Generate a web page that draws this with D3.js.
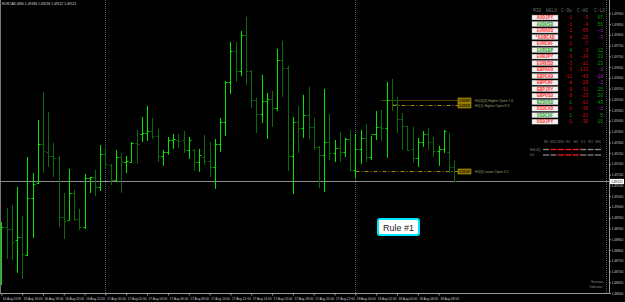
<!DOCTYPE html>
<html>
<head>
<meta charset="utf-8">
<script src="https://cdn.jsdelivr.net/npm/d3@7"></script>
<style>
  body { margin: 0; background: #000; }
  svg { display: block; }
</style>
</head>
<body>
<svg id="chart" width="625" height="302"></svg>
<script>
// EURCAD M30 bars, 16 Aug 14:00 -> 18 Aug 09:30
var opens = [1.48786,1.48907,1.48898,1.48846,1.48860,1.48777,1.49042,1.49112,1.49293,1.49256,
  1.49237,1.49228,1.48953,1.48939,1.49065,1.48944,1.48907,1.49135,1.49139,1.49093,
  1.49246,1.49195,1.49125,1.49232,1.49209,1.49209,1.49298,1.49339,1.49344,1.49353,
  1.49330,1.49237,1.49256,1.49311,1.49311,1.49311,1.49265,1.49265,1.49209,1.49232,
  1.49214,1.49186,1.49293,1.49395,1.49581,1.49725,1.49632,1.49800,1.49632,1.49497,
  1.49432,1.49493,1.49502,1.49460,1.49683,1.49646,1.49237,1.49395,1.49367,1.49428,
  1.49372,1.49279,1.49242,1.49302,1.49251,1.49274,1.49256,1.49316,1.49172,1.49270,
  1.49321,1.49232,1.49339,1.49372,1.49367,1.49497,1.49479,1.49409,1.49377,1.49270,
  1.49228,1.49302,1.49339,1.49302,1.49260,1.49270,1.49256,1.49186];
var highs = [1.48930,1.48995,1.49009,1.49093,1.48958,1.49232,1.49158,1.49404,1.49535,1.49442,
  1.49298,1.49237,1.49065,1.49177,1.49079,1.48991,1.49153,1.49139,1.49172,1.49288,
  1.49274,1.49200,1.49265,1.49251,1.49237,1.49302,1.49358,1.49418,1.49470,1.49414,
  1.49363,1.49265,1.49325,1.49339,1.49339,1.49353,1.49325,1.49270,1.49270,1.49335,
  1.49302,1.49316,1.49414,1.49586,1.49767,1.49767,1.49818,1.49883,1.49637,1.49507,
  1.49614,1.49530,1.49539,1.49735,1.49772,1.49656,1.49418,1.49470,1.49521,1.49558,
  1.49414,1.49284,1.49549,1.49432,1.49311,1.49349,1.49321,1.49358,1.49339,1.49358,
  1.49386,1.49330,1.49446,1.49451,1.49581,1.49595,1.49511,1.49437,1.49377,1.49372,
  1.49321,1.49353,1.49367,1.49325,1.49284,1.49358,1.49344,1.49218];
var lows = [1.48637,1.48758,1.48753,1.48693,1.48665,1.48772,1.48856,1.49107,1.49158,1.49186,
  1.49139,1.48907,1.48851,1.48939,1.48935,1.48893,1.48898,1.49065,1.49051,1.49074,
  1.49181,1.49102,1.49116,1.49065,1.49158,1.49205,1.49200,1.49302,1.49307,1.49316,
  1.49209,1.49191,1.49242,1.49270,1.49274,1.49251,1.49223,1.49167,1.49163,1.49195,
  1.49139,1.49084,1.49256,1.49330,1.49525,1.49581,1.49609,1.49567,1.49460,1.49344,
  1.49390,1.49316,1.49372,1.49446,1.49511,1.49167,1.49060,1.49251,1.49321,1.49316,
  1.49265,1.49088,1.49070,1.49218,1.49209,1.49209,1.49232,1.49167,1.49135,1.49200,
  1.49209,1.49218,1.49311,1.49307,1.49228,1.49446,1.49344,1.49265,1.49260,1.49205,
  1.49186,1.49279,1.49265,1.49232,1.49191,1.49251,1.49158,1.49112];
var closes = [1.48907,1.48898,1.48837,1.48860,1.48781,1.49042,1.49107,1.49293,1.49260,1.49237,
  1.49228,1.48953,1.48935,1.49065,1.48944,1.48907,1.49135,1.49139,1.49093,1.49246,
  1.49200,1.49125,1.49232,1.49209,1.49214,1.49298,1.49293,1.49344,1.49353,1.49330,
  1.49237,1.49256,1.49311,1.49316,1.49307,1.49265,1.49311,1.49209,1.49242,1.49214,
  1.49186,1.49293,1.49395,1.49581,1.49725,1.49632,1.49800,1.49632,1.49497,1.49432,
  1.49493,1.49502,1.49460,1.49683,1.49646,1.49237,1.49395,1.49367,1.49428,1.49372,
  1.49279,1.49242,1.49302,1.49251,1.49274,1.49256,1.49316,1.49172,1.49270,1.49321,
  1.49232,1.49339,1.49372,1.49367,1.49497,1.49479,1.49409,1.49377,1.49265,1.49228,
  1.49302,1.49339,1.49302,1.49260,1.49270,1.49353,1.49186,1.49121];

// one label every 4 bars (2 hours)
var timeLabels = ["16 Aug 2018","16 Aug 16:00","16 Aug 18:00","16 Aug 20:00","16 Aug 22:00",
  "17 Aug 00:00","17 Aug 02:00","17 Aug 04:00","17 Aug 06:00","17 Aug 08:00","17 Aug 10:00",
  "17 Aug 12:00","17 Aug 14:00","17 Aug 16:00","17 Aug 18:00","17 Aug 20:00","17 Aug 22:00",
  "18 Aug 00:00","18 Aug 02:00","18 Aug 04:00","18 Aug 06:00","18 Aug 08:00"];
var separatorBars = [20, 68];   // 17 Aug 00:00 and 18 Aug 00:00

var priceLabels = [1.4860,1.4865,1.4870,1.4875,1.4880,1.4885,1.4890,1.4895,1.4900,1.4905,
  1.4910,1.4915,1.4920,1.4925,1.4930,1.4935,1.4940,1.4945,1.4950,1.4955,
  1.4960,1.4965,1.4970,1.4975,1.4980,1.4985,1.4990];
var bidPrice = 1.49121;

// H1 open levels drawn by the indicator
var levelPrices = [1.49497, 1.49474, 1.49167];
var levelStartBar = [73, 75, 68];
var levelTexts = ["H1(0)[1] Higher Open 7.6", "H1(1) Higher Open 8.3", "H1(0) Lower Open 3.1"];

// side panel
var pairs = ["AUDJPY","AUDUSD","EURAUD","*EURCAD","EURCHF","EURGBP","EURJPY","EURUSD","GBPAUD",
  "GBPCAD","GBPCHF","GBPJPY","GBPUSD","NZDUSD","USDCAD","USDCHF","USDJPY"];
var pairUp = [false,true,false,false,false,true,false,false,false,false,false,false,false,true,false,true,false];
var closeOpen = [-1,-1,-1,-4,-1,4,-3,-3,-5,-11,-8,-9,-9,1,-1,1,-1];
var closeHigh = [-5,-4,-55,-26,-7,-3,-24,-11,-115,-43,-29,-31,-23,-11,-36,-21,-36];
var closeLow = [67,56,-1,-3,null,12,23,23,-1,-10,-2,25,20,43,-1,5,16];
var tfNames = ["M5","M15","M30","H1","H4","D1","W1","MN"];
var tfRowNames = ["H0L0Q","Dir"];
var tfRows = [[0,1,1,1,1,0,0,0],[0,0,1,1,1,0,0,0]];

var svg = d3.select('#chart');
var W = 625, H = 302;
var plotRight = 609, plotBottom = 293.5;
var small = 'Liberation Sans';

svg.append('rect').attr('width', W).attr('height', H).attr('fill', '#000');

var x = d3.scaleLinear().domain([0, 87]).range([1.3, 454.3]);
var y = d3.scaleLinear().domain([1.4860, 1.4990]).range([293, 13.3]);
function px(i) { return Math.round(x(i)) + 0.5; }
function py(v) { return Math.round(y(v)) + 0.5; }

// frame
svg.append('line').attr('x1', 0.5).attr('x2', 0.5).attr('y1', 0).attr('y2', plotBottom)
  .attr('stroke', '#777');
svg.append('line').attr('x1', 0).attr('x2', plotRight).attr('y1', plotBottom).attr('y2', plotBottom)
  .attr('stroke', '#999');
svg.append('line').attr('x1', plotRight + 0.5).attr('x2', plotRight + 0.5).attr('y1', 0).attr('y2', plotBottom)
  .attr('stroke', '#999');
svg.append('line').attr('x1', 606.5).attr('x2', 606.5).attr('y1', 0).attr('y2', plotBottom)
  .attr('stroke', '#555').attr('stroke-dasharray', '1,1');

// day separators
svg.selectAll('.sep').data(separatorBars).enter().append('line')
  .attr('x1', function(d) { return px(d); }).attr('x2', function(d) { return px(d); })
  .attr('y1', 0).attr('y2', plotBottom)
  .attr('stroke', '#555').attr('stroke-dasharray', '1,1');

// bid line
svg.append('line').attr('x1', 0).attr('x2', plotRight).attr('y1', py(bidPrice)).attr('y2', py(bidPrice))
  .attr('stroke', '#8a8a8a');

// H1 level lines with their little price boxes
var lv = svg.selectAll('.lvl').data(levelPrices).enter().append('g');
lv.append('line')
  .attr('x1', function(d, i) { return px(levelStartBar[i]); }).attr('x2', 458)
  .attr('y1', function(d) { return py(d); }).attr('y2', function(d) { return py(d); })
  .attr('stroke', '#a08a00')
  .attr('stroke-dasharray', function(d, i) { return i == 0 ? '1,1' : '4,2,1,2'; });
lv.append('rect')
  .attr('x', 458).attr('y', function(d) { return py(d) - 2.5; })
  .attr('width', 13).attr('height', 5)
  .attr('fill', '#7a6400').attr('stroke', '#c0a000').attr('stroke-width', 0.6);
lv.append('text')
  .attr('x', 464.5).attr('y', function(d) { return py(d) + 1.1; })
  .attr('text-anchor', 'middle').attr('font-size', '3.1px').attr('font-family', small)
  .attr('fill', '#1a1400')
  .text(function(d) { return d3.format('.5f')(d); });
lv.append('text')
  .attr('x', 475).attr('y', function(d) { return py(d) + 1.2; })
  .attr('font-size', '3.4px').attr('font-family', small)
  .attr('fill', '#a0a070')
  .text(function(d, i) { return levelTexts[i]; });

// ALL THE BARS
var bars = svg.append('g').selectAll('g').data(opens).enter().append('g')
  .attr('stroke', function(d, i) { return closes[i] >= opens[i] ? '#00e600' : '#0b6a0b'; });
bars.append('line')
  .attr('x1', function(d, i) { return px(i); }).attr('x2', function(d, i) { return px(i); })
  .attr('y1', function(d, i) { return y(highs[i]); }).attr('y2', function(d, i) { return y(lows[i]); });
bars.append('line')
  .attr('x1', function(d, i) { return px(i) - 2; }).attr('x2', function(d, i) { return px(i); })
  .attr('y1', function(d, i) { return py(opens[i]); }).attr('y2', function(d, i) { return py(opens[i]); });
bars.append('line')
  .attr('x1', function(d, i) { return px(i); }).attr('x2', function(d, i) { return px(i) + 2; })
  .attr('y1', function(d, i) { return py(closes[i]); }).attr('y2', function(d, i) { return py(closes[i]); });

// price axis
var yAxis = d3.axisRight(y).tickValues(priceLabels).tickSize(1.5).tickFormat(d3.format('.5f'));
var ya = svg.append('g').attr('transform', 'translate(' + (plotRight + 0.5) + ',0)').call(yAxis);
ya.select('.domain').remove();
ya.selectAll('line').attr('stroke', '#999');
ya.selectAll('text').attr('x', 2.2).attr('fill', '#c8c8c8')
  .attr('font-size', '3.2px').attr('font-family', small);

// bid label
svg.append('rect').attr('x', plotRight + 1).attr('y', py(bidPrice) - 2.6)
  .attr('width', 14).attr('height', 5.2).attr('fill', '#fff');
svg.append('text').attr('x', plotRight + 2.2).attr('y', py(bidPrice) + 1.1)
  .attr('font-size', '3.2px').attr('font-family', small).attr('fill', '#000')
  .text(d3.format('.5f')(bidPrice));

// time axis
var tickBars = timeLabels.map(function(d, i) { return i * 4; });
var xAxis = d3.axisBottom(x).tickValues(tickBars).tickSize(2)
  .tickFormat(function(d, i) { return timeLabels[i]; });
var xa = svg.append('g').attr('transform', 'translate(0,' + plotBottom + ')').call(xAxis);
xa.select('.domain').remove();
xa.selectAll('line').attr('stroke', '#999');
xa.selectAll('text').attr('text-anchor', 'start').attr('x', 1).attr('y', 4.2)
  .attr('fill', '#c8c8c8').attr('font-size', '3.2px').attr('font-family', small);

// title
svg.append('text').attr('x', 2).attr('y', 5).attr('font-size', '3.4px')
  .attr('font-family', small).attr('fill', '#ddd')
  .text('EURCAD,M30  1.49186 1.49218 1.49112 1.49121');

// side panel table
var mono = 'Liberation Mono';
var headX = [533, 546, 561, 577, 594];
var heads = ['M30', 'H0L0', 'C-Op', 'C-H0', 'C-L0'];
svg.selectAll('.hd').data(heads).enter().append('text')
  .attr('x', function(d, i) { return headX[i]; }).attr('y', 12)
  .attr('font-size', '4.6px').attr('font-family', mono).attr('fill', '#6a6a6a')
  .text(function(d) { return d; });

var rowY = d3.scaleLinear().domain([0, 16]).range([17.5, 121.7]);
var rows = svg.selectAll('.row').data(pairs).enter().append('g')
  .attr('transform', function(d, i) { return 'translate(0,' + rowY(i) + ')'; });
rows.append('rect').attr('x', 532).attr('y', -2.4).attr('width', 26).attr('height', 4.8)
  .attr('fill', '#f2f2f2').attr('stroke', '#bbb').attr('stroke-width', 0.4);
rows.append('text').attr('x', 545).attr('y', 1.6).attr('text-anchor', 'middle')
  .attr('font-size', '4.6px').attr('font-family', mono).attr('font-weight', 'bold')
  .attr('fill', function(d, i) { return pairUp[i] ? '#2aa02a' : '#ff3030'; })
  .text(function(d) { return d; });
function valColor(v, last) {
  if (v >= 0) return '#00a000';
  return last ? '#b020c0' : '#d01010';
}
rows.append('text').attr('x', 572).attr('y', 1.6).attr('text-anchor', 'end')
  .attr('font-size', '4.6px').attr('font-family', mono)
  .attr('fill', function(d, i) { return valColor(closeOpen[i], false); })
  .text(function(d, i) { return closeOpen[i]; });
rows.append('text').attr('x', 588).attr('y', 1.6).attr('text-anchor', 'end')
  .attr('font-size', '4.6px').attr('font-family', mono)
  .attr('fill', function(d, i) { return valColor(closeHigh[i], false); })
  .text(function(d, i) { return closeHigh[i]; });
rows.append('text').attr('x', 603).attr('y', 1.6).attr('text-anchor', 'end')
  .attr('font-size', '4.6px').attr('font-family', mono)
  .attr('fill', function(d, i) { return closeLow[i] == null ? '#000' : valColor(closeLow[i], true); })
  .text(function(d, i) { return closeLow[i] == null ? '' : closeLow[i]; });

// timeframe dashes
var tfX = d3.scaleLinear().domain([0, 7]).range([546, 598]);
svg.selectAll('.tf').data(tfNames).enter().append('text')
  .attr('x', function(d, i) { return tfX(i); }).attr('y', 143).attr('text-anchor', 'middle')
  .attr('font-size', '3.4px').attr('font-family', small).attr('fill', '#777')
  .text(function(d) { return d; });
tfRows.forEach(function(r, k) {
  var yy = 149.5 + k * 5.5;
  svg.append('text').attr('x', 530).attr('y', yy + 1.2)
    .attr('font-size', '3.4px').attr('font-family', small).attr('fill', '#888')
    .text(tfRowNames[k]);
  svg.selectAll(null).data(r).enter().append('line')
    .attr('x1', function(d, i) { return tfX(i) - 3; }).attr('x2', function(d, i) { return tfX(i) + 3; })
    .attr('y1', yy).attr('y2', yy).attr('stroke-width', 1.3)
    .attr('stroke', function(d) { return d ? '#ff1a1a' : '#8a8a8a'; });
});

// Rule #1 note
svg.append('rect').attr('x', 378).attr('y', 219).attr('width', 41).attr('height', 16).attr('rx', 2)
  .attr('fill', '#fff').attr('stroke', '#00e5ff').attr('stroke-width', 2);
svg.append('text').attr('x', 398.5).attr('y', 230.5).attr('text-anchor', 'middle')
  .attr('font-size', '9px').attr('font-family', 'Liberation Sans').attr('fill', '#222')
  .text('Rule #1');

// watermark in the corner
svg.append('text').attr('x', 597).attr('y', 283).attr('text-anchor', 'middle')
  .attr('font-size', '3.4px').attr('font-family', small).attr('fill', '#888').text('Session');
svg.append('text').attr('x', 596).attr('y', 287.5).attr('text-anchor', 'middle')
  .attr('font-size', '3.4px').attr('font-family', small).attr('fill', '#888').text('Indicator');
</script>
</body>
</html>
